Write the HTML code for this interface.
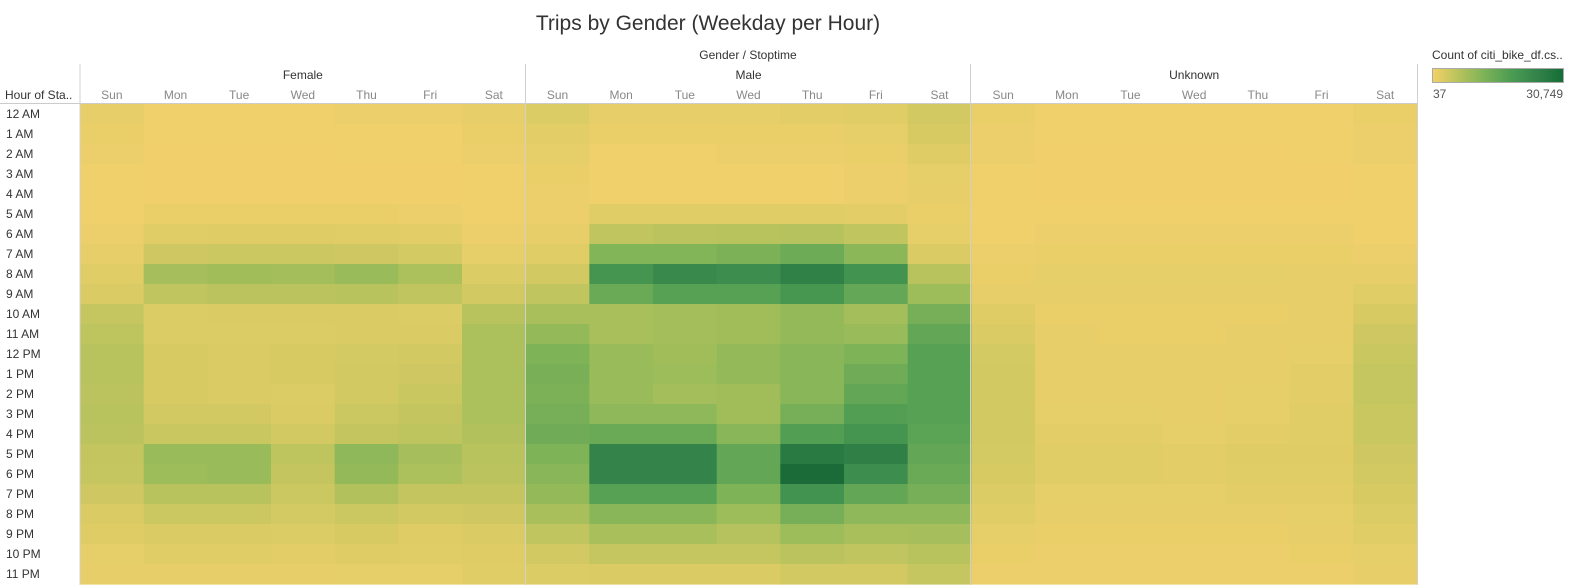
<!DOCTYPE html>
<html><head><meta charset="utf-8">
<style>
body{margin:0;background:#fff;font-family:"Liberation Sans",sans-serif;}
svg{display:block}
</style></head>
<body>
<svg id="chart" width="1576" height="585" xmlns="http://www.w3.org/2000/svg">
<text x="708" y="30" text-anchor="middle" font-size="21" fill="#333">Trips by Gender (Weekday per Hour)</text>
<text x="748" y="59" text-anchor="middle" font-size="12" fill="#333">Gender / Stoptime</text>
<text x="5" y="99" font-size="12" fill="#333">Hour of Sta..</text>
<text x="1432" y="59" font-size="12" fill="#333">Count of citi_bike_df.cs..</text>
<defs><linearGradient id="lg" x1="0" x2="1">
<stop offset="0" stop-color="#f4d166"/><stop offset="0.2" stop-color="#b6c35c"/><stop offset="0.4" stop-color="#7cb257"/><stop offset="0.6" stop-color="#4b9c53"/><stop offset="0.8" stop-color="#33834a"/><stop offset="1" stop-color="#146c36"/>
</linearGradient></defs>
<rect x="1432.5" y="68.5" width="131" height="14" fill="url(#lg)" stroke="#aaa"/>
<text x="1433" y="98" font-size="12" fill="#555">37</text>
<text x="1563" y="98" text-anchor="end" font-size="12" fill="#555">30,749</text>
<g id="cells"></g>
<g id="labels"></g>
</svg>
<script>
const MAXV = 30749;
const genders = ["Female","Male","Unknown"];
const days = ["Sun","Mon","Tue","Wed","Thu","Fri","Sat"];
const hours = ["12 AM","1 AM","2 AM","3 AM","4 AM","5 AM","6 AM","7 AM","8 AM","9 AM","10 AM","11 AM","12 PM","1 PM","2 PM","3 PM","4 PM","5 PM","6 PM","7 PM","8 PM","9 PM","10 PM","11 PM"];
// shares of max count, per hour row, Sun..Sat
const female = [
[.04,.01,.01,.01,.02,.02,.04],[.03,.01,.01,.01,.01,.01,.03],[.02,0,0,0,.01,.01,.02],[.01,0,0,0,0,0,.01],
[.01,0,0,0,0,0,.01],[.01,.03,.03,.03,.03,.02,.01],[.02,.07,.08,.08,.07,.06,.02],[.04,.14,.15,.15,.14,.12,.05],
[.07,.28,.3,.29,.32,.26,.09],[.1,.19,.21,.21,.22,.19,.13],[.17,.09,.1,.1,.1,.09,.22],[.2,.09,.09,.09,.1,.1,.26],
[.22,.11,.1,.11,.12,.13,.26],[.22,.11,.1,.11,.13,.14,.26],[.21,.11,.1,.09,.13,.16,.26],[.22,.13,.13,.1,.15,.18,.26],
[.21,.16,.16,.13,.18,.2,.24],[.18,.32,.32,.2,.36,.28,.22],[.17,.31,.32,.18,.34,.26,.21],[.14,.22,.22,.15,.24,.18,.18],
[.1,.15,.15,.12,.15,.13,.14],[.08,.1,.1,.09,.11,.08,.1],[.05,.07,.07,.06,.08,.07,.08],[.04,.04,.04,.04,.05,.05,.07]];
const male = [
[.09,.04,.04,.05,.06,.07,.13],[.06,.03,.03,.03,.03,.05,.11],[.05,.01,.01,.02,.02,.03,.08],[.03,.01,.01,.01,.01,.02,.05],
[.02,.01,.01,.01,.01,.02,.04],[.02,.07,.07,.07,.07,.06,.03],[.04,.19,.21,.22,.23,.19,.05],[.07,.4,.4,.42,.47,.37,.1],
[.13,.66,.75,.72,.82,.68,.22],[.19,.48,.56,.56,.64,.5,.31],[.27,.27,.29,.3,.34,.29,.44],[.34,.27,.29,.3,.34,.32,.51],
[.41,.32,.3,.34,.38,.41,.56],[.43,.32,.31,.34,.38,.46,.56],[.42,.32,.29,.3,.38,.51,.56],[.44,.36,.36,.3,.44,.58,.56],
[.46,.48,.48,.38,.58,.66,.54],[.41,.8,.8,.51,.88,.83,.51],[.38,.8,.8,.51,1.0,.72,.48],[.34,.56,.56,.41,.68,.51,.44],
[.27,.38,.38,.31,.44,.36,.36],[.19,.27,.27,.23,.31,.27,.28],[.13,.17,.17,.17,.21,.19,.22],[.09,.1,.1,.1,.13,.13,.17]];
const unknown = [
[.03,.01,.01,.01,.01,.01,.03],[.02,.01,.01,.01,.01,.01,.02],[.02,0,0,0,0,.01,.02],[.01,0,0,0,0,0,.01],
[.01,0,0,0,0,0,.01],[.01,.01,.01,.01,.01,.01,.01],[.01,.02,.02,.02,.02,.02,.01],[.02,.03,.03,.03,.03,.03,.02],
[.03,.05,.05,.05,.05,.04,.04],[.04,.04,.04,.04,.04,.04,.07],[.08,.03,.03,.03,.03,.04,.11],[.1,.04,.03,.03,.04,.04,.14],
[.12,.04,.04,.04,.04,.05,.16],[.13,.04,.04,.04,.04,.06,.17],[.13,.04,.04,.04,.05,.06,.17],[.13,.05,.05,.04,.05,.07,.16],
[.13,.06,.06,.05,.06,.07,.16],[.12,.07,.07,.06,.08,.08,.14],[.11,.07,.07,.06,.07,.07,.13],[.09,.05,.05,.05,.06,.06,.11],
[.07,.04,.04,.04,.04,.05,.09],[.05,.03,.03,.03,.03,.04,.07],[.03,.02,.02,.02,.02,.03,.05],[.02,.02,.02,.02,.02,.02,.04]];
const series = [female, male, unknown];

const X0 = 80, X1 = 1417, Y0 = 104, RH = 20;
const CW = (X1 - X0) / 21;
const xPos = (g, d) => X0 + (g * 7 + d) * CW;
const yPos = h => Y0 + h * RH;
const stops = [[241,208,107],[218,203,100],[190,196,94],[160,189,90],[130,180,88],[100,167,86],[78,157,83],[63,143,79],[51,131,74],[37,119,64],[26,107,55]];
function color(v){
  let t = Math.max(0, Math.min(1, (v - 37) / (MAXV - 37))) * (stops.length - 1);
  let i = Math.min(stops.length - 2, Math.floor(t)), f = t - i;
  const c = stops[i].map((a, k) => Math.round(a + (stops[i+1][k] - a) * f));
  return `rgb(${c[0]},${c[1]},${c[2]})`;
}
const NS = "http://www.w3.org/2000/svg";
const cells = document.getElementById("cells"), labels = document.getElementById("labels");
series.forEach((data, g) => {
  data.forEach((row, h) => {
    row.forEach((share, d) => {
      const v = 37 + share * (MAXV - 37);
      const r = document.createElementNS(NS, "rect");
      r.setAttribute("x", xPos(g, d)); r.setAttribute("y", yPos(h));
      r.setAttribute("width", CW + 0.6); r.setAttribute("height", RH + 0.6);
      r.setAttribute("fill", color(v));
      
      
      cells.appendChild(r);
    });
  });
});
function txt(x, y, s, anchor, fill, size){
  const t = document.createElementNS(NS, "text");
  t.setAttribute("x", x); t.setAttribute("y", y); t.setAttribute("text-anchor", anchor);
  t.setAttribute("font-size", size); t.setAttribute("fill", fill); t.textContent = s;
  labels.appendChild(t); return t;
}
function line(x1, y1, x2, y2, c){
  const l = document.createElementNS(NS, "line");
  l.setAttribute("x1", x1); l.setAttribute("y1", y1); l.setAttribute("x2", x2); l.setAttribute("y2", y2);
  l.setAttribute("stroke", c); l.setAttribute("stroke-width", 1);
  
  
  labels.appendChild(l);
}
genders.forEach((gname, g) => {
  const t = txt(xPos(g, 3.5), 79, gname, "middle", "#333", 12);
  
  
  days.forEach((dn, d) => {
    const t2 = txt(xPos(g, d) + CW / 2, 99, dn, "middle", "#888", 12);
    
    
  });
});
hours.forEach((hn, h) => {
  const t = txt(6, yPos(h) + 14, hn, "start", "#333", 12);
  
  
});
line(0, 103.5, 1417, 103.5, "#ccc");
[80, 525.5, 970.5, 1417.5].forEach(x => line(x, 64, x, 585, "#d0d0d0"));
</script>
</body></html>
